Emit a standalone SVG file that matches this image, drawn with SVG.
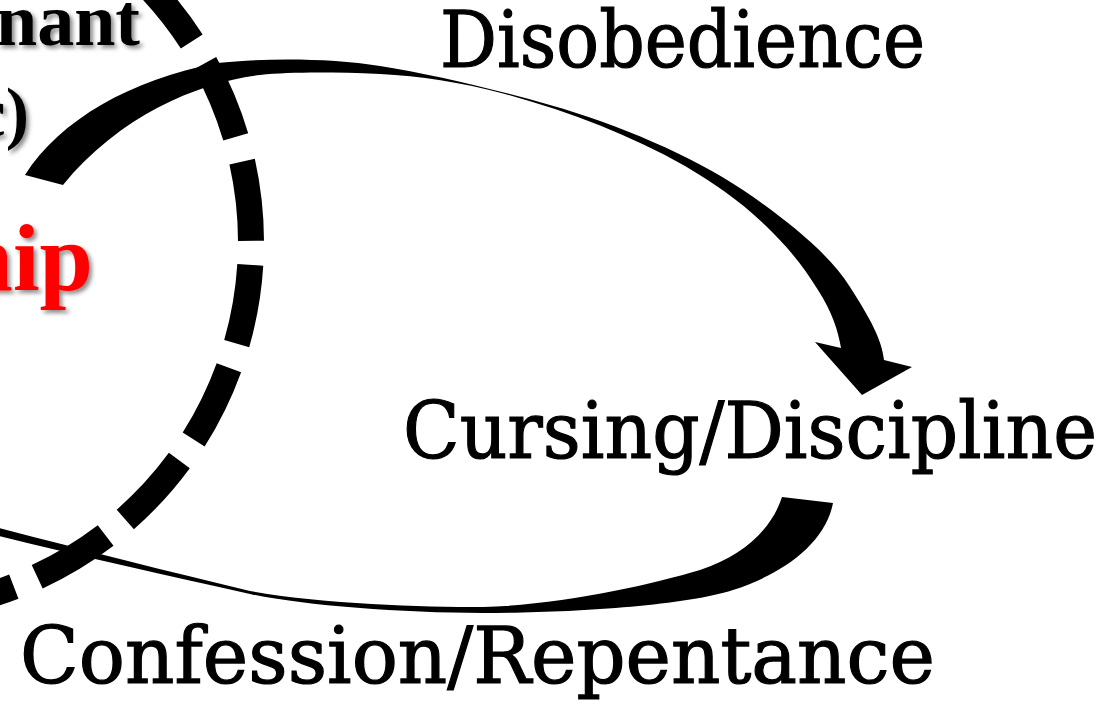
<svg xmlns="http://www.w3.org/2000/svg" width="1115" height="707" viewBox="0 0 1115 707">
  <defs>
    <filter id="shadow" x="-20%" y="-20%" width="140%" height="140%">
      <feDropShadow dx="3" dy="3" stdDeviation="2" flood-color="#000" flood-opacity="0.45"/>
    </filter>
  </defs>
  <style>
    .label { font-family: "DejaVu Serif", "Liberation Serif", serif; font-size: 78px; fill: #000; stroke: #000; stroke-width: 1.2px; }
    .title { font-family: "Liberation Serif", "Times New Roman", serif; font-weight: bold; filter: url(#shadow); }
    .arrow { fill: #000; stroke: none; }
    .dash { fill: none; stroke: #000; stroke-width: 26; stroke-dasharray: 80 25.4; stroke-dashoffset: -23; }
  </style>
  <rect width="1115" height="707" fill="#fff"/>

  <g id="covenant-circle">
    <circle class="dash" cx="-118" cy="242" r="369"/>
  </g>

  <g id="relationship">
    <text class="title" x="140" y="45" font-size="74" text-anchor="end" fill="#000">nant</text>
    <text class="title" x="29" y="136" font-size="70" text-anchor="end" fill="#000">c)</text>
    <text class="title" x="93" y="290" font-size="96" text-anchor="end" fill="#FF0000">hip</text>
  </g>

  <g id="connectors">
    <path id="arrow-disobedience" class="arrow" d="M25,175 C60,120 130,80 217,63 C265,58 330,58 380,66 C430,74 490,88 550,105 C620,125 690,155 743,190 C790,222 830,255 850,287 C870,318 882,340 884,360 L912,367 L862,395 L815,342 L841,348 C838,330 832,312 818,290 C803,266 788,247 765,225 C738,199 713,183 685,166 C630,135 570,112 505,94 C460,82 420,76 380,74 C330,72 290,72 260,75 C200,82 120,115 63,185 Z"/>
    <path id="arrow-confession" class="arrow" d="M782,497 L833,503 C825,545 780,575 733,590 C680,607 560,613 483,613 C400,613 300,605 250,594 C170,576 80,556 -5,535 L-5,527 C80,549 170,572 250,591 C320,604 420,607 483,607 C560,605 650,585 700,570 C745,555 772,528 782,497 Z"/>
  </g>

  <g id="disobedience">
    <text class="label" x="440" y="67" textLength="485" lengthAdjust="spacingAndGlyphs">Disobedience</text>
  </g>
  <g id="cursing-discipline">
    <text class="label" x="403" y="458" textLength="694" lengthAdjust="spacingAndGlyphs">Cursing/Discipline</text>
  </g>
  <g id="confession-repentance">
    <text class="label" x="20" y="683" textLength="915" lengthAdjust="spacingAndGlyphs">Confession/Repentance</text>
  </g>
</svg>
